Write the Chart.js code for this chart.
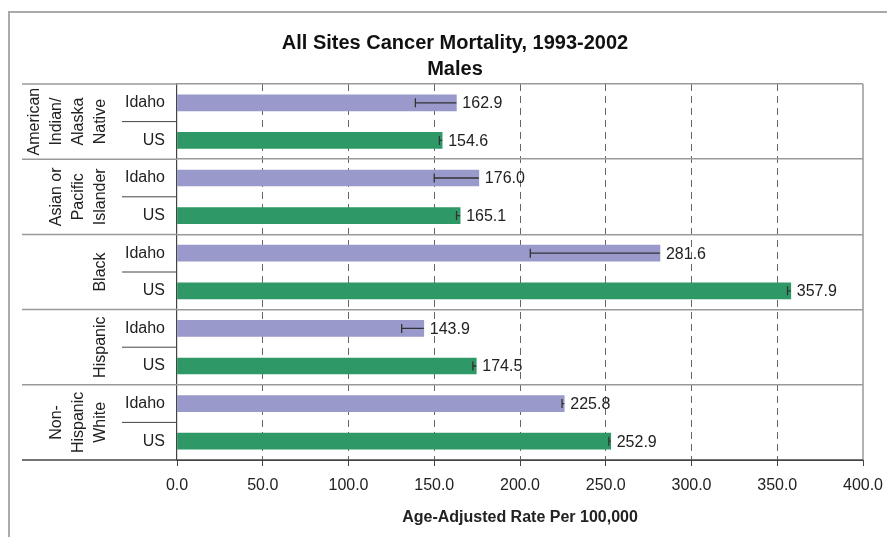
<!DOCTYPE html>
<html lang="en">
<head>
<meta charset="UTF-8">
<title>All Sites Cancer Mortality, 1993-2002</title>
<script src="https://cdn.jsdelivr.net/npm/chart.js"></script>
<style>
  html, body { margin: 0; padding: 0; background: #fff; }
  #wrap { width: 887px; height: 537px; }
</style>
</head>
<body>
<div id="wrap"><canvas id="chart" width="887" height="537"></canvas></div>
<script>
// group names (one entry per printed line) and the two rows in each group
const groups = [
  ['American', 'Indian/', 'Alaska', 'Native'],
  ['Asian or', 'Pacific', 'Islander'],
  ['Black'],
  ['Hispanic'],
  ['Non-', 'Hispanic', 'White']
];
const rows = ['Idaho', 'US'];
const rowColors = ['#9999CC', '#2E9966'];

// rates, in row order (Idaho, US, Idaho, US, ...)
const rates = [162.9, 154.6, 176.0, 165.1, 281.6, 357.9, 143.9, 174.5, 225.8, 252.9];
// lower end of the error bars
const lowerCI = [139.0, 153.0, 150.0, 163.0, 206.0, 356.0, 131.0, 172.5, 224.5, 251.8];

const xMin = 0, xMax = 400, xStep = 50;

const labels = groups.flatMap(() => rows);
const colors = labels.map((l, i) => rowColors[i % rows.length]);

Chart.defaults.font.family = '"Liberation Sans", Arial, sans-serif';
Chart.defaults.color = '#222';

// frame, group labels, separators, error bars and value labels
const decor = {
  id: 'decor',
  afterDatasetsDraw(chart) {
    const ctx = chart.ctx, xs = chart.scales.x, ys = chart.scales.y;
    ctx.save();
    // error bars
    ctx.strokeStyle = '#333';
    ctx.lineWidth = 1.3;
    rates.forEach((v, i) => {
      const y = ys.getPixelForValue(i);
      const x1 = xs.getPixelForValue(lowerCI[i]);
      const x2 = xs.getPixelForValue(v);
      ctx.beginPath();
      ctx.moveTo(x1, y); ctx.lineTo(x2, y);
      ctx.moveTo(x1, y - 4.5); ctx.lineTo(x1, y + 4.5);
      ctx.stroke();
    });
    // value labels
    ctx.fillStyle = '#222';
    ctx.font = '16px "Liberation Sans", Arial, sans-serif';
    ctx.textAlign = 'left';
    ctx.textBaseline = 'middle';
    rates.forEach((v, i) => {
      ctx.fillText(v.toFixed(1), xs.getPixelForValue(v) + 6, ys.getPixelForValue(i) + 1);
    });
    ctx.restore();
  },
  afterDraw(chart) {
    const ctx = chart.ctx, ys = chart.scales.y, area = chart.chartArea;
    const half = (ys.getPixelForValue(1) - ys.getPixelForValue(0)) / 2;
    ctx.save();
    // outer frame
    ctx.strokeStyle = '#aaa';
    ctx.lineWidth = 2;
    ctx.beginPath();
    ctx.moveTo(9, 537); ctx.lineTo(9, 12); ctx.lineTo(887, 12);
    ctx.stroke();
    // right border of plot
    ctx.strokeStyle = '#999';
    ctx.lineWidth = 1.5;
    ctx.beginPath();
    ctx.moveTo(area.right, area.top); ctx.lineTo(area.right, area.bottom);
    ctx.stroke();

    groups.forEach((g, gi) => {
      const first = gi * rows.length;
      const top = ys.getPixelForValue(first) - half;
      const mid = ys.getPixelForValue(first) + half;
      const bottom = ys.getPixelForValue(first + rows.length - 1) + half;
      // group boundary in label area
      ctx.strokeStyle = '#999';
      ctx.lineWidth = 1.5;
      ctx.beginPath();
      ctx.moveTo(22, top); ctx.lineTo(area.left, top);
      ctx.stroke();
      // separator between rows
      ctx.strokeStyle = '#444';
      ctx.lineWidth = 1;
      ctx.beginPath();
      ctx.moveTo(122, mid); ctx.lineTo(area.left, mid);
      ctx.stroke();
      // rotated group name
      const cy = (top + bottom) / 2;
      ctx.fillStyle = '#222';
      ctx.font = '16px "Liberation Sans", Arial, sans-serif';
      ctx.textAlign = 'center';
      ctx.textBaseline = 'middle';
      g.forEach((line, k) => {
        const x = 101 - (g.length - 1 - k) * 22;
        ctx.save();
        ctx.translate(x, cy);
        ctx.rotate(-Math.PI / 2);
        ctx.fillText(line, 0, 0);
        ctx.restore();
      });
    });
    // bottom line under the labels and plot
    ctx.strokeStyle = '#444';
    ctx.lineWidth = 1.5;
    ctx.beginPath();
    ctx.moveTo(22, area.bottom); ctx.lineTo(area.right, area.bottom);
    ctx.stroke();
    ctx.restore();
  }
};

new Chart(document.getElementById('chart'), {
  type: 'bar',
  data: {
    labels: labels,
    datasets: [{
      data: rates,
      backgroundColor: colors,
      borderColor: colors,
      borderWidth: 0,
      barThickness: 16
    }]
  },
  options: {
    indexAxis: 'y',
    responsive: false,
    animation: false,
    devicePixelRatio: 1,
    layout: { padding: { left: 47, right: 24, top: 0, bottom: 0 } },
    plugins: {
      legend: { display: false },
      tooltip: { enabled: false },
      title: {
        display: true,
        text: ['All Sites Cancer Mortality, 1993-2002', 'Males'],
        font: { size: 20, weight: 'bold', lineHeight: 1.3 },
        color: '#111',
        padding: { top: 30, bottom: 2 }
      }
    },
    scales: {
      x: {
        min: xMin,
        max: xMax,
        ticks: {
          stepSize: xStep,
          callback: v => v.toFixed(1),
          font: { size: 16 },
          color: '#222',
          padding: 10,
          maxRotation: 0
        },
        grid: {
          color: c => (c.tick && (c.tick.value === xMin || c.tick.value === xMax)) ? 'rgba(0,0,0,0)' : '#666',
          tickColor: '#444',
          tickLength: 6,
          lineWidth: 1
        },
        border: { display: true, color: '#444', dash: [7, 5] },
        title: {
          display: true,
          text: 'Age-Adjusted Rate Per 100,000',
          font: { size: 16, weight: 'bold' },
          color: '#222',
          padding: { top: 0, bottom: 10 }
        },
        afterFit: s => { s.height = 77; s.paddingLeft = 0; s.paddingRight = 20; }
      },
      y: {
        ticks: { font: { size: 16 }, color: '#222', padding: 12 },
        grid: {
          offset: true,
          drawTicks: false,
          color: c => c.index % rows.length === 0 ? '#999' : 'rgba(0,0,0,0)',
          lineWidth: 1.5
        },
        border: { display: true, color: '#444', width: 1.2 },
        afterFit: s => { s.width = 130; }
      }
    }
  },
  plugins: [decor]
});
</script>
</body>
</html>
